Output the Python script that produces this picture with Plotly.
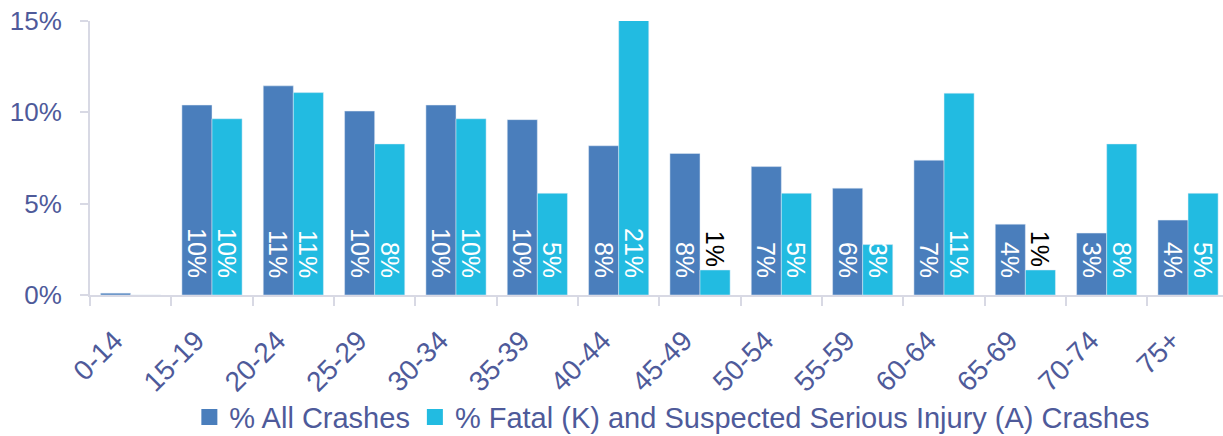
import plotly.graph_objects as go

categories = ["0-14", "15-19", "20-24", "25-29", "30-34", "35-39", "40-44",
              "45-49", "50-54", "55-59", "60-64", "65-69", "70-74", "75+"]
all_crashes = [0.1, 10.4, 11.45, 10.07, 10.4, 9.6, 8.17, 7.75, 7.03, 5.85, 7.38, 3.88, 3.39, 4.1]
fatal_serious = [0.0, 9.65, 11.08, 8.27, 9.65, 5.57, 20.83, 1.37, 5.57, 2.76, 11.05, 1.37, 8.27, 5.57]
all_labels = ["", "10%", "11%", "10%", "10%", "10%", "8%", "8%", "7%", "6%", "7%", "4%", "3%", "4%"]
fatal_labels = ["", "10%", "11%", "8%", "10%", "5%", "21%", "1%", "5%", "3%", "11%", "1%", "8%", "5%"]
fatal_outside = ["45-49", "65-69"]
y_ticks = [0, 5, 10, 15]
y_tick_labels = ["0%", "5%", "10%", "15%"]
series_names = ["% All Crashes", "% Fatal (K) and Suspected Serious Injury (A) Crashes"]
series_colors = ["#4A7EBC", "#22BBE1"]

TXT = "#4E5A9A"
AX = "#D8D9E4"
FONT = "Liberation Sans, Arial, sans-serif"
PAD = "\u00a0\u00a0"

blue_text = [t + PAD if t else "" for t in all_labels]
cyan_text = []
cyan_pos = []
for c, t in zip(categories, fatal_labels):
    if c in fatal_outside:
        cyan_text.append(t)
        cyan_pos.append("outside")
    else:
        cyan_text.append(t + PAD if t else "")
        cyan_pos.append("inside")

fig = go.Figure()
fig.add_trace(go.Bar(
    x=categories, y=all_crashes, name=series_names[0],
    marker_color=series_colors[0], showlegend=False,
    text=blue_text, textposition="inside", insidetextanchor="start",
    textangle=90, insidetextfont=dict(color="white", size=25, family=FONT),
    hoverinfo="skip",
))
fig.add_trace(go.Bar(
    x=categories, y=fatal_serious, name=series_names[1],
    marker_color=series_colors[1], showlegend=False,
    text=cyan_text, textposition=cyan_pos, insidetextanchor="start",
    textangle=90, insidetextfont=dict(color="white", size=25, family=FONT),
    outsidetextfont=dict(color="black", size=25, family=FONT),
    cliponaxis=True, hoverinfo="skip",
))
# legend entries with larger square swatches
for nm, col in zip(series_names, series_colors):
    fig.add_trace(go.Scatter(
        x=[None], y=[None], mode="markers", name=nm,
        marker=dict(symbol="square", size=16, color=col), hoverinfo="skip",
    ))

fig.update_layout(
    width=1223, height=436,
    margin=dict(l=90, r=0, t=21, b=141, autoexpand=False),
    paper_bgcolor="white", plot_bgcolor="white",
    barmode="group", bargap=0.26, bargroupgap=0,
    font=dict(family=FONT, color=TXT, size=26),
    uniformtext=dict(mode="show", minsize=25),
    showlegend=True,
    legend=dict(orientation="h", x=0.514, xanchor="center", y=-0.446, yanchor="middle",
                font=dict(size=29, color=TXT, family=FONT), itemwidth=30,
                tracegroupgap=0, bgcolor="rgba(0,0,0,0)"),
    xaxis=dict(type="category", range=[-0.5, 13.43], tickson="boundaries",
               ticks="outside", ticklen=9, tickcolor=AX, tickwidth=2,
               showline=True, linecolor=AX, linewidth=2, tickangle=-45,
               ticklabelstandoff=16, ticklabelshift=-16,
               tickfont=dict(size=28, color=TXT, family=FONT), showgrid=False),
    yaxis=dict(range=[0, 15], tickvals=y_ticks, ticktext=y_tick_labels,
               ticks="outside", ticklen=8, tickcolor=AX, tickwidth=2,
               showline=True, linecolor=AX, linewidth=2, showgrid=False, zeroline=False,
               tickfont=dict(size=26, color=TXT, family=FONT), ticklabelstandoff=13),
)

fig.write_html("out.html")
